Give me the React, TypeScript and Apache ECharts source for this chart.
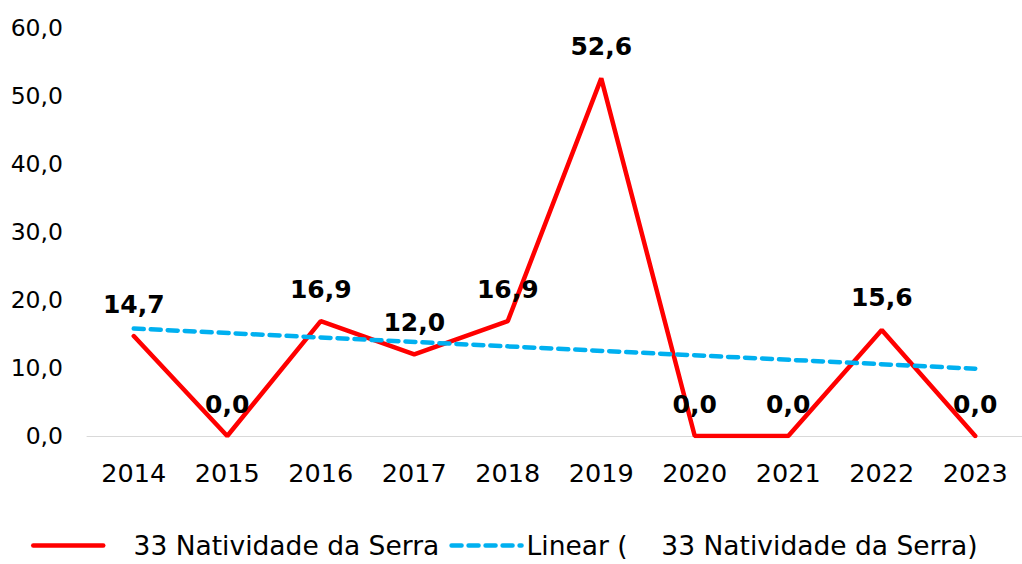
import React, { useEffect, useRef } from "react";
import * as echarts from "echarts";

const categories = ["2014", "2015", "2016", "2017", "2018", "2019", "2020", "2021", "2022", "2023"];
const seriesValues = [14.7, 0.0, 16.9, 12.0, 16.9, 52.6, 0.0, 0.0, 15.6, 0.0];
// Trend line end values
const trendValues = [15.8, null, null, null, null, null, null, null, null, 9.9];
const yTicks = [0, 10, 20, 30, 40, 50, 60];

const seriesName = "   33 Natividade da Serra";
const trendName = "Linear (    33 Natividade da Serra)";

const FONT = "DejaVu Sans, Verdana, sans-serif";
const fmt = (v: number) => v.toFixed(1).replace(".", ",");

export default function App() {
  const ref = useRef<HTMLDivElement>(null);
  useEffect(() => {
    document.body.style.margin = "0";
    const chart = echarts.init(ref.current!, null, { renderer: "svg" });
    chart.setOption({
      animation: false,
      backgroundColor: "#ffffff",
      textStyle: { fontFamily: FONT },
      grid: { left: 87, top: 28, width: 942, height: 408, containLabel: false },
      legend: {
        bottom: 0,
        left: 26,
        itemWidth: 70,
        itemHeight: 14,
        itemGap: 10,
        textStyle: { fontFamily: FONT, fontSize: 26.5, color: "#000" },
        itemStyle: { opacity: 0 },
        lineStyle: { width: 4.5 },
        data: [seriesName, trendName],
      },
      xAxis: {
        type: "category",
        data: categories,
        boundaryGap: true,
        axisLine: { show: true, lineStyle: { color: "#d9d9d9", width: 1 } },
        axisTick: { show: false },
        axisLabel: { fontFamily: FONT, fontSize: 25.5, color: "#000", margin: 24 },
      },
      yAxis: {
        type: "value",
        min: yTicks[0],
        max: yTicks[yTicks.length - 1],
        interval: 10,
        splitLine: { show: false },
        axisLine: { show: false },
        axisTick: { show: false },
        axisLabel: { fontFamily: FONT, fontSize: 23.5, color: "#000", margin: 24, formatter: (v: number) => fmt(v) },
      },
      series: [
        {
          name: seriesName,
          type: "line",
          data: seriesValues,
          symbol: "circle",
          symbolSize: 1,
          showSymbol: true,
          lineStyle: { color: "#ff0000", width: 4.5, cap: "round" },
          itemStyle: { color: "#ff0000", opacity: 0 },
          z: 2,
          label: {
            show: true,
            position: "top",
            distance: 19,
            fontFamily: FONT,
            fontSize: 25,
            fontWeight: "bold",
            color: "#000",
            opacity: 1,
            formatter: (p: any) => fmt(p.value),
          },
          labelLayout: { hideOverlap: false },
        },
        {
          name: trendName,
          type: "line",
          data: trendValues,
          connectNulls: true,
          symbol: "none",
          lineStyle: { color: "#00b0f0", width: 4.5, type: [10, 7], cap: "round" },
          itemStyle: { color: "#00b0f0" },
          z: 3,
        },
      ],
    });
    return () => chart.dispose();
  }, []);
  return <div ref={ref} style={{ width: 1022, height: 564 }} />;
}
